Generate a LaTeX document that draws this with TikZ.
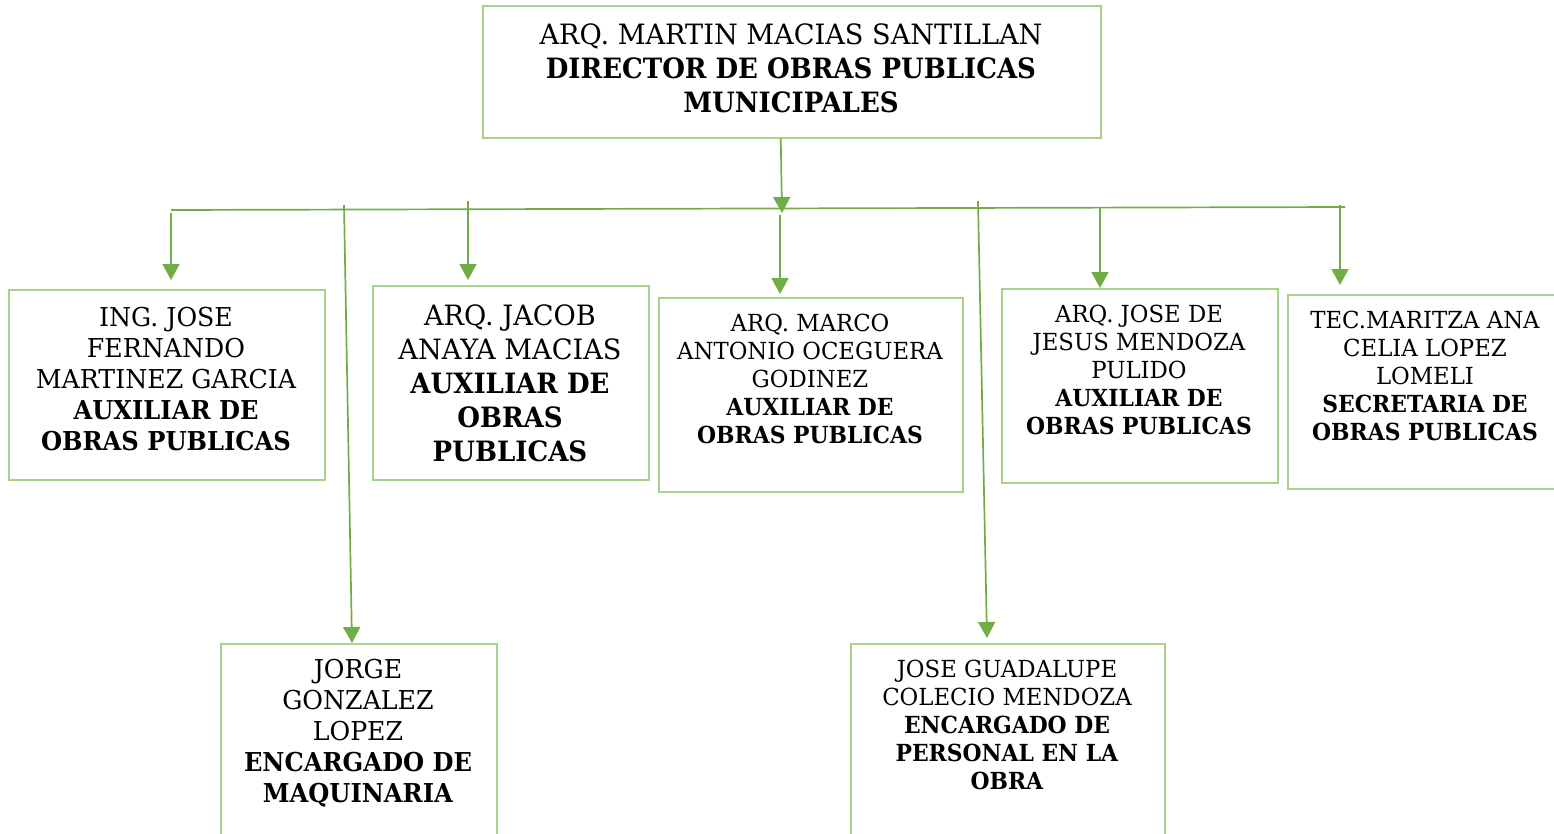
\documentclass[tikz,border=0pt]{standalone}
\usepackage{fontspec}
\setmainfont{DejaVu Serif}[FakeStretch=0.97, BoldFeatures={FakeStretch=0.93}]
\usetikzlibrary{arrows.meta}
\definecolor{lgreen}{HTML}{70AD47}
\definecolor{bgreen}{HTML}{A9D18E}
\newcommand{\fsA}{\fontsize{23.5}{28}\selectfont}
\newcommand{\fsB}{\fontsize{26}{31}\selectfont}
\newcommand{\fsC}{\fontsize{28}{34}\selectfont}
\tikzset{
  box/.style={draw=bgreen, line width=1.5pt, anchor=north west, inner sep=0pt},
  txt/.style={align=center, inner sep=0pt, text=black},
  conn/.style={draw=lgreen, line width=1.7pt},
  arr/.style={conn, -{Triangle[width=17pt,length=16pt]}},
}
\begin{document}
\begin{tikzpicture}[x=1pt,y=-1pt]
\useasboundingbox (0,0) rectangle (1554,833);
\clip (0,0) rectangle (1554,833);
% boxes
\node[box, minimum width=618pt, minimum height=132pt] (top) at (482,5) {};
\node[box, minimum width=316pt, minimum height=190pt] (b1) at (8,289) {};
\node[box, minimum width=276pt, minimum height=194pt] (b2) at (372,285) {};
\node[box, minimum width=304pt, minimum height=194pt] (b3) at (658,297) {};
\node[box, minimum width=276pt, minimum height=194pt] (b4) at (1001,288) {};
\node[box, minimum width=300pt, minimum height=194pt] (b5) at (1287,294) {};
\node[box, minimum width=276pt, minimum height=220pt] (b6) at (220,643) {};
\node[box, minimum width=314pt, minimum height=220pt] (b7) at (850,643) {};
% texts
\node[txt, font=\fsC] (ttop) at (791,68) {ARQ. MARTIN MACIAS SANTILLAN\\ \textbf{DIRECTOR DE OBRAS PUBLICAS}\\ \textbf{MUNICIPALES}};
\node[txt, font=\fsB] (t1) at (166,379) {ING. JOSE\\ FERNANDO\\ MARTINEZ GARCIA\\ \textbf{AUXILIAR DE}\\ \textbf{OBRAS PUBLICAS}};
\node[txt, font=\fsC] (t2) at (510,383) {ARQ. JACOB\\ ANAYA MACIAS\\ \textbf{AUXILIAR DE}\\ \textbf{OBRAS}\\ \textbf{PUBLICAS}};
\node[txt, font=\fsA] (t3) at (810,379) {ARQ. MARCO\\ ANTONIO OCEGUERA\\ GODINEZ\\ \textbf{AUXILIAR DE}\\ \textbf{OBRAS PUBLICAS}};
\node[txt, font=\fsA] (t4) at (1139,370) {ARQ. JOSE DE\\ JESUS MENDOZA\\ PULIDO\\ \textbf{AUXILIAR DE}\\ \textbf{OBRAS PUBLICAS}};
\node[txt, font=\fsA] (t5) at (1425,376) {TEC.MARITZA ANA\\ CELIA LOPEZ\\ LOMELI\\ \textbf{SECRETARIA DE}\\ \textbf{OBRAS PUBLICAS}};
\node[txt, font=\fsB] (t6) at (358,733) {JORGE\\ GONZALEZ\\ LOPEZ\\ \textbf{ENCARGADO DE}\\ \textbf{MAQUINARIA}};
\node[txt, font=\fsA] (t7) at (1007,725) {JOSE GUADALUPE\\ COLECIO MENDOZA\\ \textbf{ENCARGADO DE}\\ \textbf{PERSONAL EN LA}\\ \textbf{OBRA}};
% bus coordinates
\coordinate (busL) at (171,210);
\coordinate (busR) at (1345,207);
\coordinate (s0) at (782,213);
\coordinate (d1) at (171,213);
\coordinate (d6) at (344,205);
\coordinate (d2) at (468,201);
\coordinate (d3) at (780,215);
\coordinate (d7) at (978,201);
\coordinate (d4) at (1100,208);
\coordinate (d5) at (1340,205);
\coordinate (e6) at (352,643);
\coordinate (e7) at (987,638);
% connectors
\draw[arr] ([xshift=-11pt]top.south) -- (s0);
\draw[conn] (busL) -- (busR);
\draw[arr, shorten >=9pt] (d1) -- (d1 |- b1.north);
\draw[arr, shorten >=5pt] (d2) -- (d2 |- b2.north);
\draw[arr, shorten >=3pt] (d3) -- (d3 |- b3.north);
\draw[arr] (d4) -- (d4 |- b4.north);
\draw[arr, shorten >=9pt] (d5) -- (d5 |- b5.north);
\draw[arr] (d6) -- (e6);
\draw[arr] (d7) -- (e7);
\end{tikzpicture}
\end{document}
